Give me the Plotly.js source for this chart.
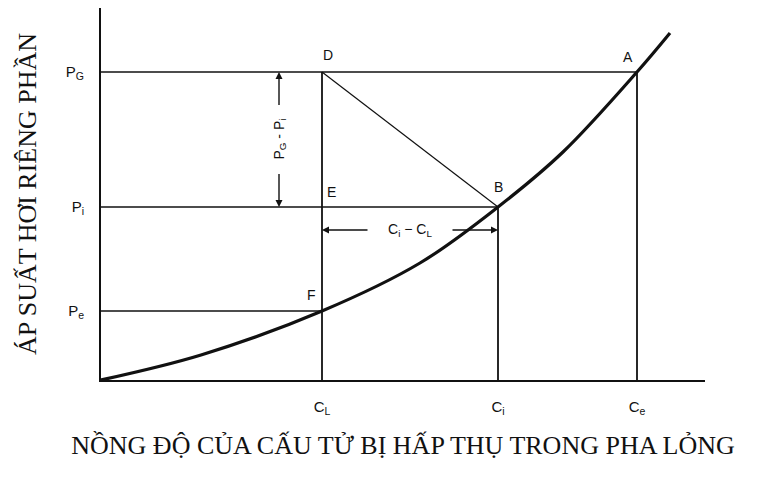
<!DOCTYPE html>
<html>
<head>
<meta charset="utf-8">
<script src="https://cdn.plot.ly/plotly-3.0.1.min.js"></script>
<style>
  html, body { margin: 0; padding: 0; background: #fff; }
  #chart { width: 761px; height: 479px; }
</style>
</head>
<body>
<div id="chart"></div>
<script>
// Concentrations in the liquid phase
const C_L = 2.21;
const C_i = 3.97;
const C_e = 5.36;
// Partial pressures of the absorbed component
const P_e = 0.69;
const P_i = 1.73;
const P_G = 3.08;

// Equilibrium curve p = f(C)
const curveX = [0, 1.0, C_L, 3.19, C_i, 4.62, C_e, 5.69];
const curveY = [0, 0.25, P_e, 1.17, P_i, 2.28, P_G, 3.47];

// Axis tick labels
const xTickVals = [C_L, C_i, C_e];
const xTickText = ['C<sub>L</sub>', 'C<sub>i</sub>', 'C<sub>e</sub>'];
const yTickVals = [P_e, P_i, P_G];
const yTickText = ['P<sub>e</sub>', 'P<sub>i</sub>', 'P<sub>G</sub>'];

// Named state points
const pointNames = ['A', 'B', 'D', 'E', 'F'];
const pointX = [C_e, C_i, C_L, C_L, C_L];
const pointY = [P_G, P_i, P_G, P_i, P_e];

const ink = '#111';
const thin = { color: ink, width: 1.4 };

function seg(x0, y0, x1, y1, line) {
  return { type: 'line', xref: 'x', yref: 'y', x0, y0, x1, y1, line: line || thin, layer: 'below' };
}

const shapes = [
  // horizontal pressure levels
  seg(0, P_G, C_e, P_G),
  seg(0, P_i, C_i, P_i),
  seg(0, P_e, C_L, P_e),
  // vertical concentration levels
  seg(C_L, 0, C_L, P_G, { color: ink, width: 1.8 }),
  seg(C_i, 0, C_i, P_i, { color: ink, width: 1.8 }),
  seg(C_e, 0, C_e, P_G, { color: ink, width: 1.8 }),
  // operating line D -> B
  seg(C_L, P_G, C_i, P_i, { color: ink, width: 1.2 })
];

// Dimension marker P_G - P_i
const dimPx = 1.78;
const dimPmid = (P_G + P_i) / 2;
const dimPgap = 0.33;
// Dimension marker C_i - C_L
const dimCy = 1.50;
const dimCmid = (C_L + C_i) / 2;
const dimCgap = 0.41;

const pointLabelFont = { family: 'Liberation Sans, Arial, sans-serif', size: 14, color: ink };
const labelOffsets = {
  A: [-9, 15], B: [0, 20], D: [6, 17], E: [9, 15], F: [-11, 16]
};

const annotations = [];
pointNames.forEach((n, i) => {
  annotations.push({
    x: pointX[i], y: pointY[i], xref: 'x', yref: 'y',
    text: n, showarrow: false, font: pointLabelFont,
    xshift: labelOffsets[n][0], yshift: labelOffsets[n][1]
  });
});

function arrow(x, y, ax, ay) {
  return {
    x, y, ax, ay, xref: 'x', yref: 'y', axref: 'x', ayref: 'y',
    text: '', showarrow: true, arrowhead: 2, arrowsize: 1, arrowwidth: 1.4,
    arrowcolor: ink, standoff: 0, startstandoff: 0
  };
}

annotations.push(arrow(dimPx, P_G, dimPx, dimPmid + dimPgap));
annotations.push(arrow(dimPx, P_i, dimPx, dimPmid - dimPgap));
annotations.push({
  x: dimPx, y: dimPmid, xref: 'x', yref: 'y',
  text: 'P<sub>G</sub> - P<sub>i</sub>', textangle: -90, showarrow: false,
  font: pointLabelFont
});
annotations.push(arrow(C_L, dimCy, dimCmid - dimCgap, dimCy));
annotations.push(arrow(C_i, dimCy, dimCmid + dimCgap, dimCy));
annotations.push({
  x: dimCmid, y: dimCy, xref: 'x', yref: 'y',
  text: 'C<sub>i</sub> − C<sub>L</sub>', showarrow: false,
  font: pointLabelFont
});

const traces = [{
  x: curveX, y: curveY, type: 'scatter', mode: 'lines',
  line: { color: ink, width: 3.2, shape: 'spline', smoothing: 1 },
  hoverinfo: 'skip', showlegend: false
}];

const xTitleFont = { family: 'Liberation Serif, Times New Roman, serif', size: 26, color: ink };
const yTitleFont = { family: 'Liberation Serif, Times New Roman, serif', size: 26, color: ink };
const tickFont = { family: 'Liberation Sans, Arial, sans-serif', size: 15, color: ink };

const layout = {
  width: 761, height: 479,
  margin: { l: 101, r: 56, t: 8, b: 99 },
  paper_bgcolor: '#fff', plot_bgcolor: '#fff',
  showlegend: false,
  xaxis: {
    range: [0, 6.04], showgrid: false, zeroline: false,
    showline: true, linecolor: ink, linewidth: 2,
    tickmode: 'array', tickvals: xTickVals, ticktext: xTickText,
    ticks: '', tickfont: tickFont, ticklabelstandoff: 12,
    title: { text: 'NỒNG ĐỘ CỦA CẤU TỬ BỊ HẤP THỤ TRONG PHA LỎNG', font: xTitleFont, standoff: 20 },
    fixedrange: true
  },
  yaxis: {
    range: [0, 3.72], showgrid: false, zeroline: false,
    showline: true, linecolor: ink, linewidth: 2,
    tickmode: 'array', tickvals: yTickVals, ticktext: yTickText,
    ticks: '', tickfont: tickFont, ticklabelstandoff: 12,
    title: { text: 'ÁP SUẤT HƠI RIÊNG PHẦN', font: yTitleFont, standoff: 22 },
    fixedrange: true
  },
  shapes, annotations
};

Plotly.newPlot('chart', traces, layout, { displayModeBar: false, staticPlot: true });
</script>
</body>
</html>
